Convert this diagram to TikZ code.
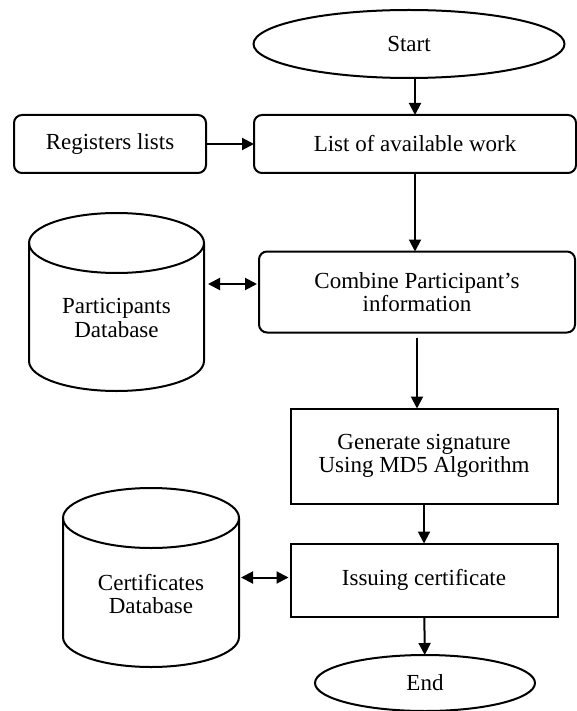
\documentclass[tikz,border=0pt]{standalone}
\usepackage{fontspec}
\setmainfont{Liberation Serif}
\usetikzlibrary{shapes.geometric,arrows.meta,calc}

\begin{document}
\begin{tikzpicture}[x=1pt,y=-1pt,
  every node/.style={font=\fontsize{23}{23.5}\selectfont, align=center, inner sep=0pt, outer sep=0pt},
  line/.style={line width=2pt},
  arr/.style={line width=2pt, -{Triangle[length=12pt,width=12pt]}},
  dbl/.style={line width=2pt, {Triangle[length=12pt,width=12pt]}-{Triangle[length=12pt,width=12pt]}},
  term/.style={ellipse, draw, line width=2pt},
  rbox/.style={draw, rounded corners=8pt, line width=2pt},
  sbox/.style={draw, line width=2pt}
]
\useasboundingbox (0,0) rectangle (577,711);

% process nodes
\node[term, minimum width=311pt, minimum height=68pt] (start) at (409,44) {Start};
\node[rbox, minimum width=192pt, minimum height=58pt] (reg) at (110,144) {Registers lists};
\node[rbox, minimum width=322pt, minimum height=58pt] (list) at (415,144) {List of available work};
\node[rbox, minimum width=316pt, minimum height=81pt] (comb) at (417,292) {Combine Participant’s\\information};
\node[sbox, minimum width=267pt, minimum height=95pt] (gen) at (424,456) {Generate signature\\Using MD5 Algorithm};
\node[sbox, minimum width=267pt, minimum height=73pt] (iss) at (424,580) {Issuing certificate};
\node[term, minimum width=220pt, minimum height=56pt] (end) at (425,683) {End};

% database cylinders
\node[minimum width=175pt, minimum height=178pt] (pdb) at (116.5,302) {};
\node (pdbtext) at (116.5,318) {Participants\\Database};
\node[minimum width=176pt, minimum height=179pt] (cdb) at (151,577.5) {};
\node (cdbtext) at (151,594) {Certificates\\Database};

\foreach \db/\rx in {pdb/87.5, cdb/88}{
  \draw[line] ($(\db.north)+(0,30)$) ellipse[x radius=\rx pt, y radius=30pt];
  \draw[line] ($(\db.north west)+(0,30)$) -- ($(\db.south west)+(0,-30)$)
    arc[start angle=180, end angle=360, x radius=\rx pt, y radius=30pt]
    -- ($(\db.north east)+(0,30)$);
}

% connectors
\draw[arr] (start.south -| list.north) -- (list.north);
\draw[arr] (reg) -- (list);
\draw[arr] (list.south) -- (list.south |- comb.north);
\path ([xshift=4pt,yshift=18pt]pdb.east) coordinate (pr);
\draw[dbl] (pr) -- ($(pr -| comb.west)+(-2,0)$);
\draw[arr] ([yshift=-5pt]comb.south) -- (comb.south |- gen.north);
\draw[arr] (gen) -- (iss);
\draw[dbl] ($(cdb.east)+(2,0)$) -- ($(cdb.east -| iss.west)+(-2,0)$);
\draw[arr] (iss) -- (end);
\end{tikzpicture}
\end{document}
